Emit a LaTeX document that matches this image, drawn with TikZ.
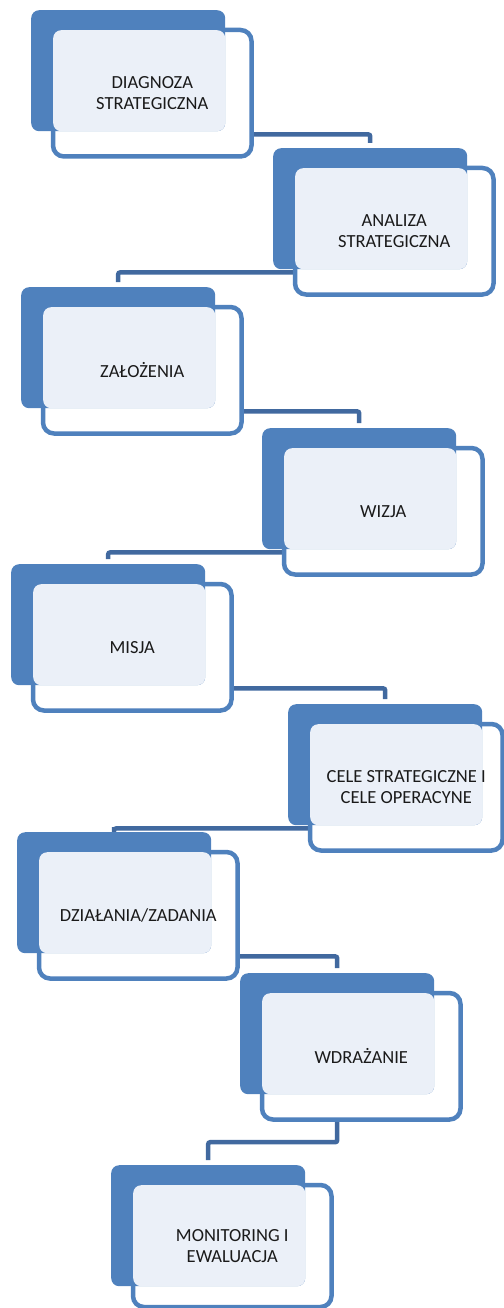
\documentclass[tikz,border=0pt]{standalone}
\usepackage{fontspec}
\setmainfont{Carlito}
\usetikzlibrary{calc}
\pgfdeclarelayer{bg}
\pgfsetlayers{bg,main}
\definecolor{accent}{HTML}{4F81BD}
\definecolor{paleblue}{HTML}{EBF0F8}
\definecolor{connblue}{HTML}{41699F}
\definecolor{inkgray}{HTML}{1A1A1A}
\tikzset{
  darkbox/.style={fill=accent, rounded corners=8pt, minimum width=194pt, minimum height=121pt, inner sep=0pt, anchor=north west},
  outerbox/.style={draw=accent, line width=4.5pt, fill=white, rounded corners=11pt, minimum width=198.5pt, minimum height=126.5pt, inner sep=0pt, anchor=north west},
  lightbox/.style={fill=paleblue, rounded corners=8pt, minimum width=172pt, minimum height=101pt, inner sep=0pt, anchor=north west},
  txt/.style={text=inkgray, align=center, font=\fontsize{18.5}{21}\selectfont, inner sep=0pt},
  conn/.style={draw=connblue, line width=4.5pt, rounded corners=2pt, shorten >=5pt}
}
\newcommand\stepblock[5][]{%
  \node[outerbox,#1] (b#2) at (#3+19.75,#4+17.75) {};
  \node[darkbox] (d#2) at (#3,#4) {};
  \node[lightbox] (l#2) at (#3+22,#4+20) {};
  \node[txt] (t#2) at (b#2.center) {#5};
}
\begin{document}
\begin{tikzpicture}[x=1pt,y=-1pt]
\useasboundingbox (0,0) rectangle (503,1308);
\stepblock{1}{31}{10}{DIAGNOZA\\STRATEGICZNA}
\stepblock{2}{273}{148}{ANALIZA\\STRATEGICZNA}
\stepblock{3}{21}{287}{ZAŁOŻENIA}
\stepblock{4}{262}{428}{WIZJA}
\stepblock{5}{11}{564}{MISJA}
\stepblock[minimum width=192.5pt]{6}{288}{704}{CELE STRATEGICZNE I\\CELE OPERACYNE}
\stepblock{7}{17}{832}{DZIAŁANIA/ZADANIA}
\stepblock{8}{240}{973}{WDRAŻANIE}
\stepblock[minimum height=122pt]{9}{111}{1165}{MONITORING I\\EWALUACJA}
\begin{pgfonlayer}{bg}
  \draw[conn] ($(d1.south)+(0,3)$) -| (d2.north);
  \draw[conn] ($(d2.south)+(0,3)$) -| (d3.north);
  \draw[conn] ($(d3.south)+(0,3)$) -| (d4.north);
  \draw[conn] ($(d4.south)+(0,3)$) -| (d5.north);
  \draw[conn] ($(d5.south)+(0,3)$) -| (d6.north);
  \draw[conn] ($(d6.south)+(0,3)$) -| (d7.north);
  \draw[conn] ($(d7.south)+(0,3)$) -| (d8.north);
  \draw[conn] (d8.center) -- ++(0,108.5) -| (d9.north);
\end{pgfonlayer}
\end{tikzpicture}
\end{document}
